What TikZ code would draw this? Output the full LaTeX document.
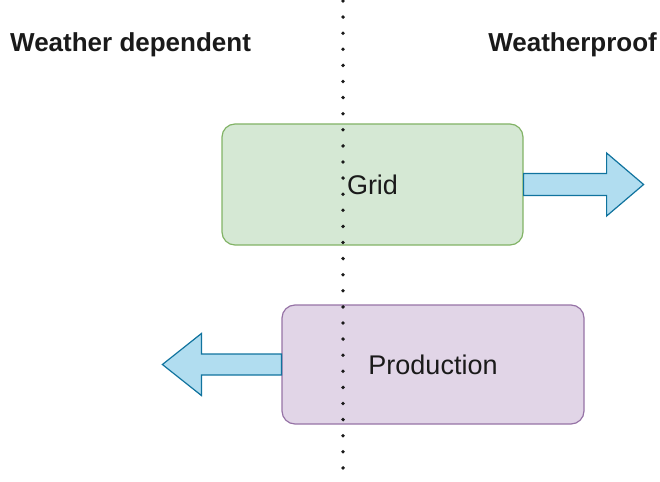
\documentclass[tikz,border=0pt]{standalone}
\usepackage{fontspec}
\setmainfont{Liberation Sans}
\definecolor{gridfill}{HTML}{D5E8D4}
\definecolor{gridline}{HTML}{82B366}
\definecolor{prodfill}{HTML}{E1D5E7}
\definecolor{prodline}{HTML}{9673A6}
\definecolor{arrowfill}{HTML}{B1DDF0}
\definecolor{arrowline}{HTML}{10739E}
\definecolor{ink}{HTML}{1A1A1A}
\tikzset{
  zonebox/.style={rounded corners=13pt, line width=1.2pt, inner sep=0pt,
    font=\fontsize{27}{30}\selectfont, text=ink},
  heading/.style={font=\bfseries\fontsize{26}{30}\selectfont, text=ink, inner sep=0pt},
  blockarrow/.style={fill=arrowfill, draw=arrowline, line width=1.2pt, line join=miter},
  divider/.style={line width=3.8pt, line cap=round, dash pattern=on 0pt off 16.1pt, draw=ink}
}
\begin{document}
\begin{tikzpicture}[x=1pt, y=-1pt]
  \useasboundingbox (0,0) rectangle (660,481);

  % the two zone headings
  \node[heading, anchor=base west] (dep) at (10,52) {Weather dependent};
  \node[heading, anchor=base east] (proof) at (657,52) {Weatherproof};

  % boxes
  \node[zonebox, fill=gridfill, draw=gridline, minimum width=301pt, minimum height=121pt]
    (grid) at (372.5,184.5) {};
  \node[zonebox, fill=prodfill, draw=prodline, minimum width=302pt, minimum height=119pt]
    (prod) at (433,364.5) {};

  % block arrows leaving the boxes
  \draw[blockarrow] (grid.east) ++(0,11) -- ++(83,0) -- ++(0,20.5) -- ++(37,-31.5)
    -- ++(-37,-31.5) -- ++(0,20.5) -- ++(-83,0) -- cycle;
  \draw[blockarrow] (prod.west) ++(0,10.5) -- ++(-80,0) -- ++(0,20.5) -- ++(-39,-31)
    -- ++(39,-31) -- ++(0,20.5) -- ++(80,0) -- cycle;

  % dotted divider between the two zones
  \coordinate (divtop) at (343,1);
  \coordinate (divbot) at (343,481);
  \draw[divider] (divtop) -- (divbot);

  % box labels
  \node[font=\fontsize{27}{30}\selectfont, text=ink, inner sep=0pt] (gridlabel) at (grid.center) {Grid};
  \node[font=\fontsize{27}{30}\selectfont, text=ink, inner sep=0pt] (prodlabel) at (prod.center) {Production};
\end{tikzpicture}
\end{document}
